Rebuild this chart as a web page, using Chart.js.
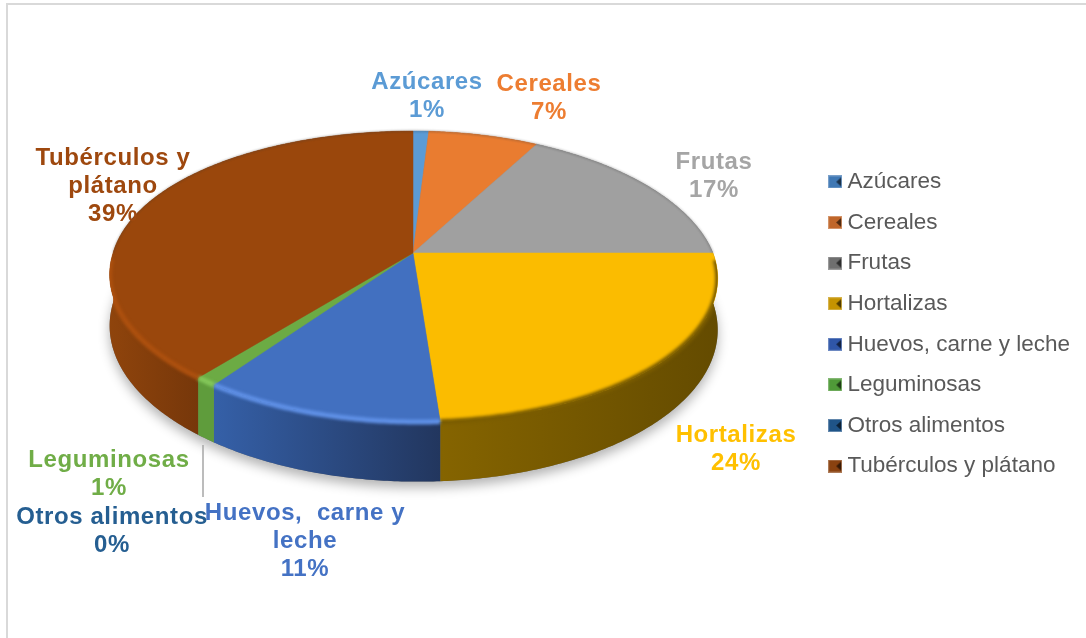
<!DOCTYPE html>
<html>
<head>
<meta charset="utf-8">
<title>Alimentos</title>
<script src="https://cdn.jsdelivr.net/npm/chart.js@4/dist/chart.umd.min.js"></script>
<style>
html, body { margin: 0; padding: 0; background: #fff; overflow: hidden; }
canvas { display: block; }
</style>
</head>
<body>
<canvas id="myChart" width="1086" height="638"></canvas>
<script>
const categories = ['Azúcares', 'Cereales', 'Frutas', 'Hortalizas', 'Huevos, carne y leche', 'Leguminosas', 'Otros alimentos', 'Tubérculos y plátano'];
const shares = [1, 7, 17, 24, 11, 1, 0, 39];

// Labels as they wrap in the picture, the percentage comes from shares
const labelLines = [['Azúcares'], ['Cereales'], ['Frutas'], ['Hortalizas'], ['Huevos,  carne y', 'leche'], ['Leguminosas'], ['Otros alimentos'], ['Tubérculos y', 'plátano']];

const faceColors = ['#5b9bd5', '#e97c30', '#a0a0a0', '#fbbc00', '#4270c0', '#6cab44', '#255e91', '#9a470c'];
const textColors = ['#5b9bd5', '#ed7d31', '#a5a5a5', '#ffc000', '#4472c4', '#70ad47', '#255e91', '#9e480e'];
const wallLeft = ['#3f6f9c', '#a5561f', '#707070', '#856400', '#3560a8', '#5f9c3c', '#1a4265', '#8f440c'];
const wallRight = ['#3f6f9c', '#a5561f', '#707070', '#644b00', '#22365e', '#5f9c3c', '#1a4265', '#76370a'];
const rimColors = ['#4a7fb0', '#b5622a', '#6e6e6e', '#7a5c00', '#5f90e6', '#84c85a', '#255e91', '#ad500e'];
const markerColors = ['#3f78b4', '#c0662a', '#6f6f6f', '#c59300', '#2f56a8', '#4f9a38', '#1f5488', '#8a4210'];

// Where each label sits: centre x, centre y of its first line
const labelSpots = [[427, 82], [549, 84], [714, 162], [736, 435], [305, 513], [109, 460], [112, 517], [113, 158]];
const lineGap = 28;

// Tilted view of the pie
const apexX = 413, apexY = 253;
const spreadX = 300, spreadY = 141.7, tilt = 0.1615, skew = 4, depth = 50;

function project(angle) {
    const t = angle + Math.PI / 2;
    const u = Math.sin(t), v = -Math.cos(t);
    const d = 1 - tilt * v;
    // the picture leans a little, but the 12 o'clock edge stays straight above the apex
    const lean = v > 0 ? skew * v : skew * v * Math.abs(u) * 2;
    return { x: apexX + (spreadX * u + lean) / d, y: apexY + spreadY * v / d, drop: depth / d, v: v };
}

function rimPoints(start, end) {
    const n = Math.max(2, Math.ceil((end - start) / 0.01));
    const pts = [];
    for (let i = 0; i <= n; i++) pts.push(project(start + (end - start) * i / n));
    return pts;
}

function makeMarker(color) {
    const c = document.createElement('canvas');
    c.width = 14; c.height = 13;
    const g = c.getContext('2d');
    g.fillStyle = color;
    g.fillRect(0, 0, 14, 13);
    g.strokeStyle = 'rgba(255,255,255,0.3)';
    g.strokeRect(0.5, 0.5, 13, 12);
    g.fillStyle = 'rgba(0,0,0,0.6)';
    g.beginPath();
    g.moveTo(13, 2); g.lineTo(8, 6.5); g.lineTo(13, 11);
    g.fill();
    return c;
}
const markers = markerColors.map(makeMarker);

const framePlugin = {
    id: 'frame',
    beforeDraw(chart) {
        const ctx = chart.ctx;
        ctx.save();
        ctx.fillStyle = '#fff';
        ctx.fillRect(0, 0, chart.width, chart.height);
        ctx.fillStyle = '#d9d9d9';
        ctx.fillRect(6, 3, 2, chart.height - 3);
        ctx.fillRect(6, 3, chart.width - 6, 2);
        ctx.restore();
    }
};

// Draws the arcs Chart.js laid out, through the tilted view, with a wall under them
const tiltedPie = {
    id: 'tiltedPie',
    beforeDatasetsDraw(chart) {
        const ctx = chart.ctx;
        const arcs = chart.getDatasetMeta(0).data;
        const slices = [];
        arcs.forEach((arc, i) => {
            if (arc.endAngle - arc.startAngle > 0) {
                slices.push({ i: i, pts: rimPoints(arc.startAngle, arc.endAngle) });
            }
        });

        // soft shadow under the base
        const all = rimPoints(-Math.PI / 2, Math.PI * 1.5);
        ctx.save();
        ctx.shadowColor = 'rgba(0,0,0,0.3)';
        ctx.shadowBlur = 12;
        ctx.shadowOffsetY = 6;
        ctx.fillStyle = '#777';
        ctx.beginPath();
        all.forEach((p, k) => k ? ctx.lineTo(p.x, p.y + p.drop) : ctx.moveTo(p.x, p.y + p.drop));
        ctx.closePath();
        ctx.fill();
        ctx.restore();

        // walls
        slices.forEach(s => {
            const front = s.pts.filter(p => p.v >= 0);
            const xs = (front.length ? front : s.pts).map(p => p.x);
            const g = ctx.createLinearGradient(Math.min(...xs), 0, Math.max(...xs) + 1, 0);
            g.addColorStop(0, wallLeft[s.i]);
            g.addColorStop(1, wallRight[s.i]);
            ctx.fillStyle = g;
            ctx.beginPath();
            s.pts.forEach((p, k) => k ? ctx.lineTo(p.x, p.y) : ctx.moveTo(p.x, p.y));
            s.pts.slice().reverse().forEach(p => ctx.lineTo(p.x, p.y + p.drop));
            ctx.closePath();
            ctx.fill();
        });

        // top face
        slices.forEach(s => {
            ctx.fillStyle = faceColors[s.i];
            ctx.strokeStyle = faceColors[s.i];
            ctx.lineWidth = 0.5;
            ctx.beginPath();
            ctx.moveTo(apexX, apexY);
            s.pts.forEach(p => ctx.lineTo(p.x, p.y));
            ctx.closePath();
            ctx.fill();
            ctx.stroke();
        });

        // thin dark edge on the back of the rim
        ctx.save();
        ctx.filter = 'blur(1px)';
        ctx.strokeStyle = 'rgba(60,60,60,0.55)';
        ctx.lineWidth = 1;
        ctx.beginPath();
        rimPoints(-Math.PI, 0).forEach((p, k) => k ? ctx.lineTo(p.x, p.y) : ctx.moveTo(p.x, p.y));
        ctx.stroke();
        ctx.restore();

        // bevel on the front, kept inside the outline so its ends do not stick out
        ctx.save();
        ctx.beginPath();
        all.forEach((p, k) => k ? ctx.lineTo(p.x, p.y) : ctx.moveTo(p.x, p.y));
        ctx.closePath();
        rimPoints(0, Math.PI).forEach(p => ctx.lineTo(p.x, p.y));
        rimPoints(0, Math.PI).reverse().forEach(p => ctx.lineTo(p.x, p.y + p.drop));
        ctx.closePath();
        ctx.clip('nonzero');
        ctx.filter = 'blur(1.5px)';
        ctx.lineWidth = 5;
        ctx.lineCap = 'butt';
        slices.forEach(s => {
            const front = s.pts.filter(p => p.v >= 0.04);
            if (front.length < 2) return;
            ctx.strokeStyle = rimColors[s.i];
            ctx.beginPath();
            front.forEach((p, k) => k ? ctx.lineTo(p.x, p.y) : ctx.moveTo(p.x, p.y));
            ctx.stroke();
        });
        ctx.restore();
        return false;
    },
    afterDraw(chart) {
        const ctx = chart.ctx;
        ctx.save();
        ctx.strokeStyle = '#a6a6a6';
        ctx.lineWidth = 1.5;
        ctx.beginPath();
        ctx.moveTo(203, 445);
        ctx.lineTo(203, 497);
        ctx.stroke();

        ctx.font = 'bold 24px "Liberation Sans", Arial, sans-serif';
        ctx.letterSpacing = '0.6px';
        ctx.textAlign = 'center';
        ctx.textBaseline = 'middle';
        categories.forEach((name, i) => {
            ctx.fillStyle = textColors[i];
            const lines = labelLines[i].concat(shares[i] + '%');
            lines.forEach((line, k) => {
                ctx.fillText(line, labelSpots[i][0], labelSpots[i][1] + k * lineGap);
            });
        });
        ctx.restore();
    }
};

function initializeChart() {
    const ctx = document.getElementById('myChart').getContext('2d');
    return new Chart(ctx, {
        type: 'pie',
        data: {
            labels: categories,
            datasets: [{ data: shares, backgroundColor: faceColors, borderWidth: 0 }]
        },
        options: {
            responsive: false,
            animation: false,
            layout: { padding: { top: 10, right: 6 } },
            plugins: {
                tooltip: { enabled: false },
                legend: {
                    position: 'right',
                    labels: {
                        usePointStyle: true,
                        pointStyleWidth: 2,
                        padding: 18.1,
                        color: '#595959',
                        font: { family: '"Liberation Sans", Arial, sans-serif', size: 22.5 },
                        generateLabels: () => categories.map((text, i) => ({
                            text: text,
                            fillStyle: faceColors[i],
                            strokeStyle: 'transparent',
                            lineWidth: 0,
                            fontColor: '#595959',
                            pointStyle: markers[i],
                            hidden: false,
                            index: i
                        }))
                    }
                }
            }
        },
        plugins: [framePlugin, tiltedPie]
    });
}

initializeChart();
</script>
</body>
</html>
